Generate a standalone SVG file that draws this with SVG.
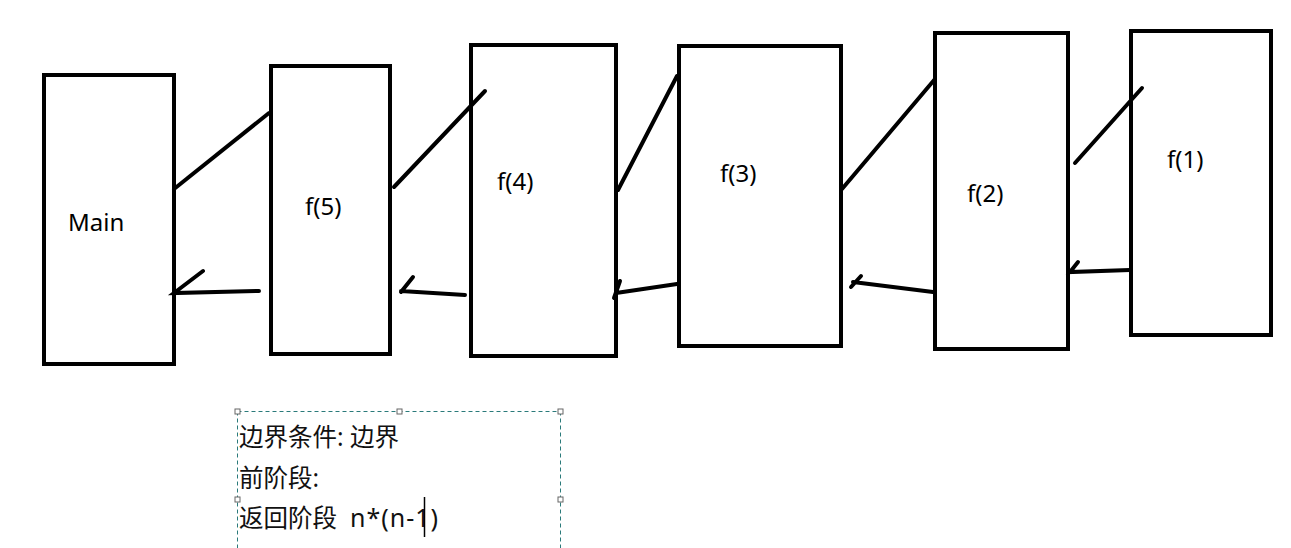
<svg xmlns="http://www.w3.org/2000/svg" width="1291" height="548" viewBox="0 0 1291 548">
<style>
.box{fill:#fff;stroke:#000;stroke-width:4}
.ln{stroke:#000;stroke-width:4;stroke-linecap:round;fill:none}
.lbl{font-family:"Noto Sans","Liberation Sans",sans-serif;font-size:24px;fill:#000}
.txt{font-family:"Noto Sans","Noto Sans CJK SC",sans-serif;font-size:24.5px;fill:#111}
.h{fill:#fff;stroke:#666;stroke-width:1}
</style>
<rect width="1291" height="548" fill="#fff"/>
<g id="main"><rect class="box" x="44" y="75" width="130" height="289"/><text class="lbl" x="68" y="231">Main</text></g>
<g id="f5"><rect class="box" x="271" y="66" width="119" height="288"/><text class="lbl" x="305" y="215">f(5)</text></g>
<g id="f4"><rect class="box" x="471" y="45" width="145" height="311"/><text class="lbl" x="497" y="190">f(4)</text></g>
<g id="f3"><rect class="box" x="679" y="46" width="162" height="300"/><text class="lbl" x="720" y="182">f(3)</text></g>
<g id="f2"><rect class="box" x="935" y="33" width="133" height="316"/><text class="lbl" x="967" y="202">f(2)</text></g>
<g id="f1"><rect class="box" x="1131" y="31" width="140" height="304"/><text class="lbl" x="1167" y="168">f(1)</text></g>
<g id="connectors">
<line class="ln" x1="174" y1="189" x2="269" y2="113"/>
<line class="ln" x1="394" y1="187" x2="485" y2="91"/>
<line class="ln" x1="618" y1="190" x2="677" y2="76"/>
<line class="ln" x1="842" y1="189" x2="935" y2="79"/>
<line class="ln" x1="1075" y1="163" x2="1142" y2="88"/>
<path class="ln" d="M259,291 L174,293 L203,271"/>
<path class="ln" d="M465,295 L401,291 M401,292 L413,277"/>
<path class="ln" d="M677,284 L616,293 M614,298 L620,281"/>
<path class="ln" d="M933,292 L853,282 M851,287 L861,276"/>
<path class="ln" d="M1130,270 L1070,272 L1078,262"/>
</g>
<g id="textbox">
<path d="M237.5,411.5 H560.5 M237.5,411.5 V548 M560.5,411.5 V548" stroke="#2a7a7a" stroke-width="1" stroke-dasharray="4,3" fill="none"/>
<rect class="h" x="235" y="409" width="5" height="5"/>
<rect class="h" x="397" y="409" width="5" height="5"/>
<rect class="h" x="558" y="409" width="5" height="5"/>
<rect class="h" x="235" y="497" width="5" height="5"/>
<rect class="h" x="558" y="497" width="5" height="5"/>
<text class="txt" x="239" y="446">边界条件: 边界</text>
<text class="txt" x="239" y="487">前阶段:</text>
<text class="txt" x="239" y="527">返回阶段</text>
<text class="txt" x="350" y="527" style="font-size:25px;letter-spacing:1px">n*(n-1)</text>
<line x1="424.5" y1="497" x2="424.5" y2="537" stroke="#000" stroke-width="1.5"/>
</g>
</svg>
